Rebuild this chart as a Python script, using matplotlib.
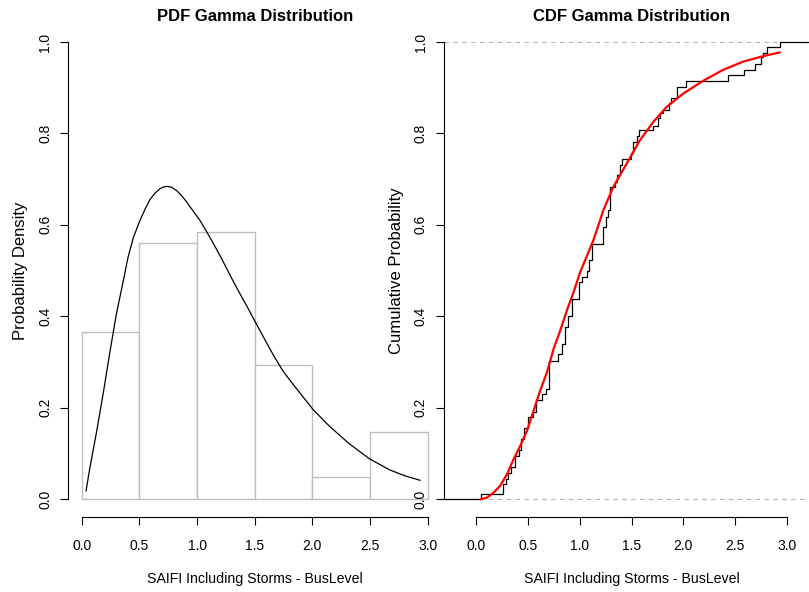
import numpy as np
import matplotlib.pyplot as plt

plt.rcParams['font.family'] = ['Liberation Sans', 'DejaVu Sans']

# histogram of the data (density, bins of 0.5)
bin_edges = [0.0, 0.5, 1.0, 1.5, 2.0, 2.5, 3.0]
bin_density = [0.366, 0.561, 0.585, 0.293, 0.049, 0.146]

# fitted gamma density
pdf_x = [0.037, 0.066, 0.13, 0.19, 0.245, 0.30, 0.36, 0.40, 0.447, 0.505,
         0.55, 0.591, 0.63, 0.678, 0.71, 0.745, 0.78, 0.822, 0.865, 0.909,
         0.96, 1.024, 1.08, 1.139, 1.20, 1.255, 1.31, 1.37, 1.44, 1.514,
         1.60, 1.67, 1.745, 1.82, 1.889, 2.005, 2.149, 2.32, 2.495, 2.668,
         2.80, 2.933]
pdf_y = [0.018, 0.063, 0.15, 0.238, 0.324, 0.405, 0.478, 0.528, 0.572, 0.610,
         0.635, 0.655, 0.668, 0.679, 0.683, 0.684, 0.682, 0.675, 0.664, 0.650,
         0.632, 0.610, 0.586, 0.560, 0.532, 0.505, 0.478, 0.450, 0.418, 0.383,
         0.343, 0.311, 0.280, 0.255, 0.233, 0.196, 0.159, 0.121, 0.088, 0.064,
         0.051, 0.041]

# empirical cdf: jump positions and level after each jump
ecdf_x = [0.045, 0.257, 0.286, 0.306, 0.335, 0.376, 0.408, 0.434, 0.456, 0.495,
          0.543, 0.579, 0.633, 0.675, 0.707, 0.794, 0.826, 0.858, 0.884, 0.929,
          0.996, 1.019, 1.067, 1.090, 1.122, 1.228, 1.250, 1.270, 1.292, 1.340,
          1.357, 1.389, 1.405, 1.492, 1.511, 1.556, 1.575, 1.710, 1.758, 1.774,
          1.806, 1.864, 1.880, 1.935, 2.022, 2.433, 2.584, 2.697, 2.755, 2.771,
          2.809, 2.931]
ecdf_y = [0.012, 0.032, 0.043, 0.058, 0.070, 0.094, 0.107, 0.131, 0.156, 0.180,
          0.191, 0.216, 0.230, 0.240, 0.303, 0.317, 0.339, 0.376, 0.401, 0.438,
          0.474, 0.485, 0.500, 0.522, 0.559, 0.595, 0.617, 0.632, 0.683, 0.694,
          0.708, 0.730, 0.743, 0.756, 0.781, 0.794, 0.807, 0.816, 0.833, 0.844,
          0.852, 0.866, 0.877, 0.902, 0.915, 0.927, 0.939, 0.952, 0.968, 0.975,
          0.988, 1.000]

# fitted gamma cdf (red)
cdf_x = [0.045, 0.103, 0.167, 0.231, 0.296, 0.360, 0.424, 0.489, 0.553, 0.617,
         0.682, 0.746, 0.810, 0.874, 0.939, 1.003, 1.131, 1.228, 1.324, 1.453,
         1.581, 1.710, 1.839, 1.999, 2.192, 2.385, 2.578, 2.771, 2.931]
cdf_y = [0.0, 0.003, 0.014, 0.029, 0.054, 0.087, 0.116, 0.149, 0.193, 0.237,
         0.277, 0.328, 0.368, 0.412, 0.452, 0.496, 0.566, 0.632, 0.683, 0.734,
         0.785, 0.825, 0.858, 0.887, 0.915, 0.939, 0.957, 0.969, 0.977]

xticks = [0.0, 0.5, 1.0, 1.5, 2.0, 2.5, 3.0]
yticks = [0.0, 0.2, 0.4, 0.6, 0.8, 1.0]
xlab = 'SAIFI Including Storms - BusLevel'

W, H = 809, 592
fig = plt.figure(figsize=(W / 100, H / 100), dpi=100)
ax1 = fig.add_axes([68 / W, 1 - 517.3 / H, (441.5 - 68) / W, (517.3 - 23.7) / H])
ax2 = fig.add_axes([443.5 / W, 1 - 517.3 / H, (819.6 - 443.5) / W, (517.3 - 23.7) / H])


def r_style(ax):
    # base-R look: axes only over the data range, no box
    for s in ['top', 'right']:
        ax.spines[s].set_visible(False)
    for s in ['left', 'bottom']:
        ax.spines[s].set_linewidth(0.8)
    ax.spines['left'].set_bounds(0, 1)
    ax.spines['bottom'].set_bounds(0, 3)
    ax.set_xticks(xticks)
    ax.set_xticklabels([f'{t:.1f}' for t in xticks])
    ax.set_yticks(yticks)
    ax.set_yticklabels([f'{t:.1f}' for t in yticks], rotation=90, va='center')
    ax.tick_params(direction='out', length=5.5, width=0.8, labelsize=10)
    ax.tick_params(axis='x', pad=10)
    ax.tick_params(axis='y', pad=6)
    ax.set_ylim(-0.04, 1.04)


# PDF panel
ax1.bar(bin_edges[:-1], bin_density, width=np.diff(bin_edges), align='edge',
        facecolor='white', edgecolor='#bebebe', linewidth=1)
ax1.plot(pdf_x, pdf_y, color='black', linewidth=0.9)
ax1.set_xlim(-0.12, 3.12)
r_style(ax1)
ax1.set_title('PDF Gamma Distribution', fontsize=12, fontweight='bold', pad=2)
ax1.set_xlabel(xlab, fontsize=10.2, labelpad=14)
ax1.set_ylabel('Probability Density', fontsize=12, labelpad=7)

# CDF panel
ax2.set_xlim(-0.317, 3.317)
ax2.axhline(0, color='#b3b3b3', linewidth=0.8, dashes=(4, 4))
ax2.axhline(1, color='#b3b3b3', linewidth=0.8, dashes=(4, 4))
sx = [-1.0] + ecdf_x + [4.0]
sy = [0.0] + ecdf_y + [ecdf_y[-1]]
ax2.step(sx, sy, where='post', color='black', linewidth=0.9)
ax2.plot(cdf_x, cdf_y, color='red', linewidth=1.6)
r_style(ax2)
ax2.set_title('CDF Gamma Distribution', fontsize=12, fontweight='bold', pad=2)
ax2.set_xlabel(xlab, fontsize=10.2, labelpad=14)
ax2.set_ylabel('Cumulative Probability', fontsize=12, labelpad=7)

fig.savefig('out.png', dpi=100)
